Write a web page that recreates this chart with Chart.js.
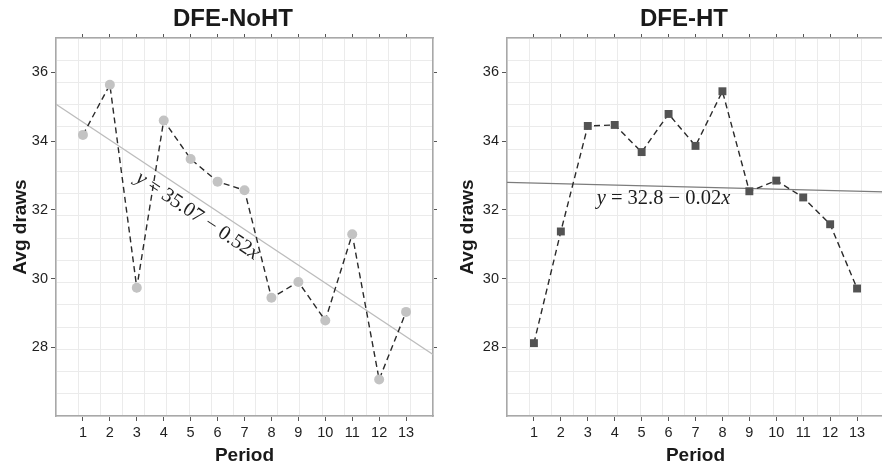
<!DOCTYPE html>
<html>
<head>
<meta charset="utf-8">
<script src="https://cdn.jsdelivr.net/npm/chart.js@4.4.1/dist/chart.umd.min.js"></script>
<style>
  html, body { margin: 0; padding: 0; background: #fff; overflow: hidden; width: 882px; height: 470px; }
  .panel { position: absolute; top: 0; }
  .ttl { position: absolute; top: 4px; font: bold 24px "Liberation Sans", Arial, sans-serif; color: #1a1a1a; transform: translateX(-50%); white-space: nowrap; }
</style>
</head>
<body>
<canvas id="noht" class="panel" width="441" height="470" style="left:0"></canvas>
<canvas id="ht" class="panel" width="449" height="470" style="left:441px"></canvas>
<div class="ttl" style="left:233px">DFE-NoHT</div>
<div class="ttl" style="left:684px">DFE-HT</div>
<script>
// values
const periods = [1, 2, 3, 4, 5, 6, 7, 8, 9, 10, 11, 12, 13];
const avgNoHT = [34.18, 35.64, 29.73, 34.6, 33.48, 32.82, 32.57, 29.44, 29.9, 28.78, 31.29, 27.06, 29.03];
const avgHT = [28.12, 31.37, 34.44, 34.47, 33.68, 34.79, 33.86, 35.45, 32.54, 32.85, 32.36, 31.58, 29.71];
const trendX = [0, 14];
const trendNoHT = [35.07, 27.79];
const trendHT = [32.8, 32.52];
const yTicks = [28, 30, 32, 34, 36];
const eqNoHT = ['y', ' = 35.07 \u2212 0.52', 'x'];
const eqHT = ['y', ' = 32.8 \u2212 0.02', 'x'];

const SANS = 'Liberation Sans';

// writes the fitted equation, optionally rotated along the trend line
const equationLabel = {
  id: 'equation',
  afterDatasetsDraw(chart, args, opts) {
    const { ctx, scales: { x, y } } = chart;
    const px = x.getPixelForValue(opts.at[0]);
    const py = y.getPixelForValue(opts.at[1]);
    let angle = 0;
    if (opts.followTrend) {
      const t = chart.data.datasets[1].data;
      angle = Math.atan2(y.getPixelForValue(t[1].y) - y.getPixelForValue(t[0].y),
                         x.getPixelForValue(t[1].x) - x.getPixelForValue(t[0].x));
    }
    const fonts = ['italic 20.5px "Liberation Serif"', '20.5px "Liberation Serif"', 'italic 20.5px "Liberation Serif"'];
    ctx.save();
    ctx.translate(px, py);
    ctx.rotate(angle);
    ctx.fillStyle = '#1e1e1e';
    ctx.textBaseline = 'middle';
    ctx.textAlign = 'left';
    const widths = opts.parts.map((t, i) => { ctx.font = fonts[i]; return ctx.measureText(t).width; });
    let cx = -widths.reduce((a, b) => a + b, 0) / 2;
    opts.parts.forEach((t, i) => { ctx.font = fonts[i]; ctx.fillText(t, cx, 0); cx += widths[i]; });
    ctx.restore();
  }
};

const border = { color: '#a8a8a8', width: 1.5 };
const fixedTicks = vals => s => { s.ticks = vals.map(v => ({ value: v })); };
const lattice = s => { s.ticks = []; for (let i = 0; i <= 17; i++) s.ticks.push({ value: i }); };

function makePanel(id, values, trend, marker, leftW, rightW, yTitlePad, eq) {
  new Chart(document.getElementById(id), {
    type: 'line',
    data: {
      datasets: [{
        data: periods.map((p, i) => ({ x: p, y: values[i] })),
        borderColor: '#2a2a2a',
        borderWidth: 1.4,
        borderDash: [6, 4],
        pointStyle: marker.style,
        pointRadius: marker.radius,
        pointBackgroundColor: marker.color,
        pointBorderColor: marker.color,
        pointBorderWidth: 0,
        tension: 0
      }, {
        data: trendX.map((x, i) => ({ x: x, y: trend.values[i] })),
        borderColor: trend.color,
        borderWidth: 1.3,
        pointRadius: 0
      }]
    },
    options: {
      responsive: false,
      animation: false,
      events: [],
      layout: { padding: 0 },
      plugins: {
        legend: { display: false },
        tooltip: { enabled: false },
        equation: eq
      },
      scales: {
        x: {
          type: 'linear', axis: 'x', position: 'bottom', min: 0, max: 14,
          afterBuildTicks: fixedTicks(periods),
          afterFit: s => { s.height = 54; },
          grid: { drawOnChartArea: false, tickLength: 5, tickColor: '#555' },
          border: border,
          ticks: { autoSkip: false, maxRotation: 0, padding: 3, color: '#1f1f1f', font: { family: SANS, size: 14.5 } },
          title: { display: true, text: 'Period', color: '#1a1a1a', font: { family: SANS, size: 19, weight: 'bold' }, padding: { top: 0, bottom: 3 } }
        },
        y: {
          type: 'linear', axis: 'y', position: 'left', min: 26, max: 37,
          afterBuildTicks: fixedTicks(yTicks),
          afterFit: s => { s.width = leftW; },
          grid: { drawOnChartArea: false, tickLength: 5, tickColor: '#555' },
          border: border,
          ticks: { padding: 3, color: '#1f1f1f', font: { family: SANS, size: 14.5 } },
          title: { display: true, text: 'Avg draws', color: '#1a1a1a', font: { family: SANS, size: 19, weight: 'bold' }, padding: { top: yTitlePad, bottom: 0 } }
        },
        xTop: {
          type: 'linear', axis: 'x', position: 'top', min: 0, max: 14,
          afterBuildTicks: fixedTicks(periods),
          afterFit: s => { s.height = 38; },
          grid: { drawOnChartArea: false, tickLength: 4, tickColor: '#555' },
          border: border,
          ticks: { display: false }
        },
        yRight: {
          type: 'linear', axis: 'y', position: 'right', min: 26, max: 37,
          afterBuildTicks: fixedTicks(yTicks),
          afterFit: s => { s.width = rightW; },
          grid: { drawOnChartArea: false, tickLength: 4, tickColor: '#555' },
          border: border,
          ticks: { display: false }
        },
        gx: {
          type: 'linear', axis: 'x', position: 'bottom', min: 0, max: 17,
          afterBuildTicks: lattice,
          afterFit: s => { s.height = 0; },
          grid: { color: '#ebebeb', lineWidth: 1, drawTicks: false },
          border: { display: false },
          ticks: { display: false }
        },
        gy: {
          type: 'linear', axis: 'y', position: 'left', min: 0, max: 17,
          afterBuildTicks: lattice,
          afterFit: s => { s.width = 0; },
          grid: { color: '#ebebeb', lineWidth: 1, drawTicks: false },
          border: { display: false },
          ticks: { display: false }
        }
      }
    },
    plugins: [equationLabel]
  });
}

makePanel('noht', avgNoHT, { values: trendNoHT, color: '#bcbcbc' },
  { style: 'circle', radius: 5, color: '#c3c3c3' }, 56, 8, 9,
  { parts: eqNoHT, at: [5.25, 31.82], followTrend: true });

makePanel('ht', avgHT, { values: trendHT, color: '#7c7c7c' },
  { style: 'rect', radius: 5.6, color: '#535353' }, 66, 6, 15,
  { parts: eqHT, at: [5.81, 32.34], followTrend: false });
</script>
</body>
</html>
